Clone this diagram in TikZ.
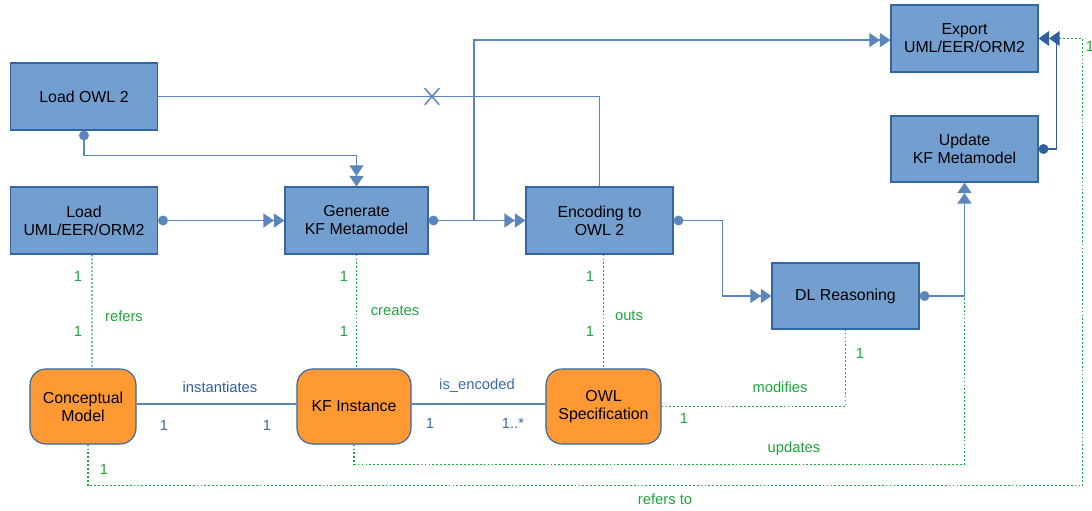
\documentclass[tikz,border=0pt]{standalone}
\usepackage{fontspec}
\setmainfont{Liberation Sans}
\usetikzlibrary{arrows.meta,positioning,shapes.misc}
\definecolor{procfill}{HTML}{729FCF}
\definecolor{procline}{HTML}{3465A4}
\definecolor{linkblue}{HTML}{5B86BB}
\definecolor{darkblue}{HTML}{2F5F9F}
\definecolor{artfill}{HTML}{FF9933}
\definecolor{relgreen}{HTML}{1EA53C}
\definecolor{multblue}{HTML}{3D6AAA}
\begin{document}
\begin{tikzpicture}[x=0.025cm,y=-0.025cm,
  proc/.style={draw=procline,line width=0.8pt,fill=procfill,minimum width=3.675cm,minimum height=1.675cm,align=center,font=\fontsize{11.3}{12.8}\selectfont,inner sep=2pt},
  artf/.style={draw=procline,line width=0.8pt,fill=artfill,rounded corners=0.4cm,minimum height=1.875cm,align=center,font=\fontsize{11.3}{12.8}\selectfont,inner sep=2pt},
  flow/.style={draw=linkblue,line width=1.05pt,{Circle[length=7pt]}-{Triangle[length=7.5pt,width=10pt]Triangle[length=7.5pt,width=10pt]}},
  plainflow/.style={draw=linkblue,line width=1.05pt},
  rel/.style={draw=relgreen,line width=1pt,dash pattern=on 1.3pt off 1.5pt},
  glab/.style={text=relgreen,font=\fontsize{10.5}{12}\selectfont,inner sep=1pt},
  blab/.style={text=multblue,font=\fontsize{10.5}{12}\selectfont,inner sep=1pt}]
\useasboundingbox (0,0) rectangle (1092,511);
% process boxes
\node[proc] (owl) at (84,96.5) {Load OWL 2};
\node[proc] (uml) at (84,220.5) {Load\\UML/EER/ORM2};
\node[proc,minimum width=3.575cm] (gen) at (356.5,220.5) {Generate\\KF Metamodel};
\node[proc] (enc) at (599.5,220.5) {Encoding to\\OWL 2};
\node[proc,minimum height=1.65cm] (dl) at (845.5,296) {DL Reasoning};
\node[proc] (exp) at (964.5,38.5) {Export\\UML/EER/ORM2};
\node[proc,minimum height=1.65cm] (upd) at (964.5,149) {Update\\KF Metamodel};
% artefacts
\node[artf,minimum width=2.65cm] (cm) at (83,406.5) {Conceptual\\Model};
\node[artf,minimum width=2.85cm] (kf) at (354,406.5) {KF Instance};
\node[artf,minimum width=2.875cm] (spec) at (603.5,406.5) {OWL\\Specification};
% green relations
\draw[rel] ([xshift=0.2cm]uml.south) -- ([xshift=0.225cm]cm.north);
\draw[rel] (gen.south) -- (gen.south |- kf.north);
\draw[rel] (spec.north |- enc.south) -- (spec.north);
\draw[rel] (spec.east) -| (dl.south);
\draw[rel] (kf.south) -- ++(0,20) -| (upd.south);
\draw[rel] ([xshift=0.125cm]cm.south) -- ++(0,41) -| ([xshift=1.1cm]exp.east) -- (exp.east);
\node[glab] (r1a) at (78,276) {1};
\node[glab] (r1b) at (78,331) {1};
\node[glab] (r1) at (124,316) {refers};
\node[glab] (r2a) at (344,276) {1};
\node[glab] (r2b) at (344,331) {1};
\node[glab] (r2) at (395,311) {creates};
\node[glab] (r3a) at (590,276) {1};
\node[glab] (r3b) at (590,331) {1};
\node[glab] (r3) at (629,316) {outs};
\node[glab] (r4) at (780,387) {modifies};
\node[glab] (r4a) at (684,418) {1};
\node[glab] (r4b) at (860,353) {1};
\node[glab] (r5) at (794,449) {updates};
\node[glab] (r6) at (665,499) {refers to};
\node[glab] (r6a) at (104,469) {1};
\node[glab] (r6b) at (1090,46) {1};
% blue associations
\draw[plainflow] (cm.east |- 0,404) -- (kf.west |- 0,404);
\draw[plainflow] (kf.east |- 0,404) -- (spec.west |- 0,404);
\node[blab,text=darkblue] (a1) at (220,387) {instantiates};
\node[blab] (a1a) at (164,425) {1};
\node[blab] (a1b) at (267,425) {1};
\node[blab] (a2) at (477,386) {is\_encoded};
\node[blab] (a2a) at (430,423) {1};
\node[blab] (a2b) at (513,423) {1..*};
% process flow
\draw[plainflow] (owl.east) -| (enc.north);
\node[cross out,draw=linkblue,line width=1.05pt,minimum width=0.33cm,minimum height=0.38cm,inner sep=0pt] (cut) at (432,96.5) {};
\draw[flow] (owl.south) -- ++(0,25) -| (gen.north);
\draw[flow] (uml.east) -- (gen.west);
\draw[flow] (gen.east) -- (enc.west);
\coordinate (split) at (474,220.5);
\draw[plainflow,-{Triangle[length=7.5pt,width=10pt]Triangle[length=7.5pt,width=10pt]}] (split) |- ([yshift=-0.04cm]exp.west);
\draw[flow] (enc.east) -- ++(49,0) |- (dl.west);
\draw[flow] (dl.east) -| (upd.south);
\draw[flow,draw=darkblue,{Circle[length=7pt]}-{Triangle[length=7.5pt,width=10.5pt]Triangle[length=7.5pt,width=10.5pt]}] (upd.east) -- ++(18,0) |- (exp.east);
\end{tikzpicture}
\end{document}
